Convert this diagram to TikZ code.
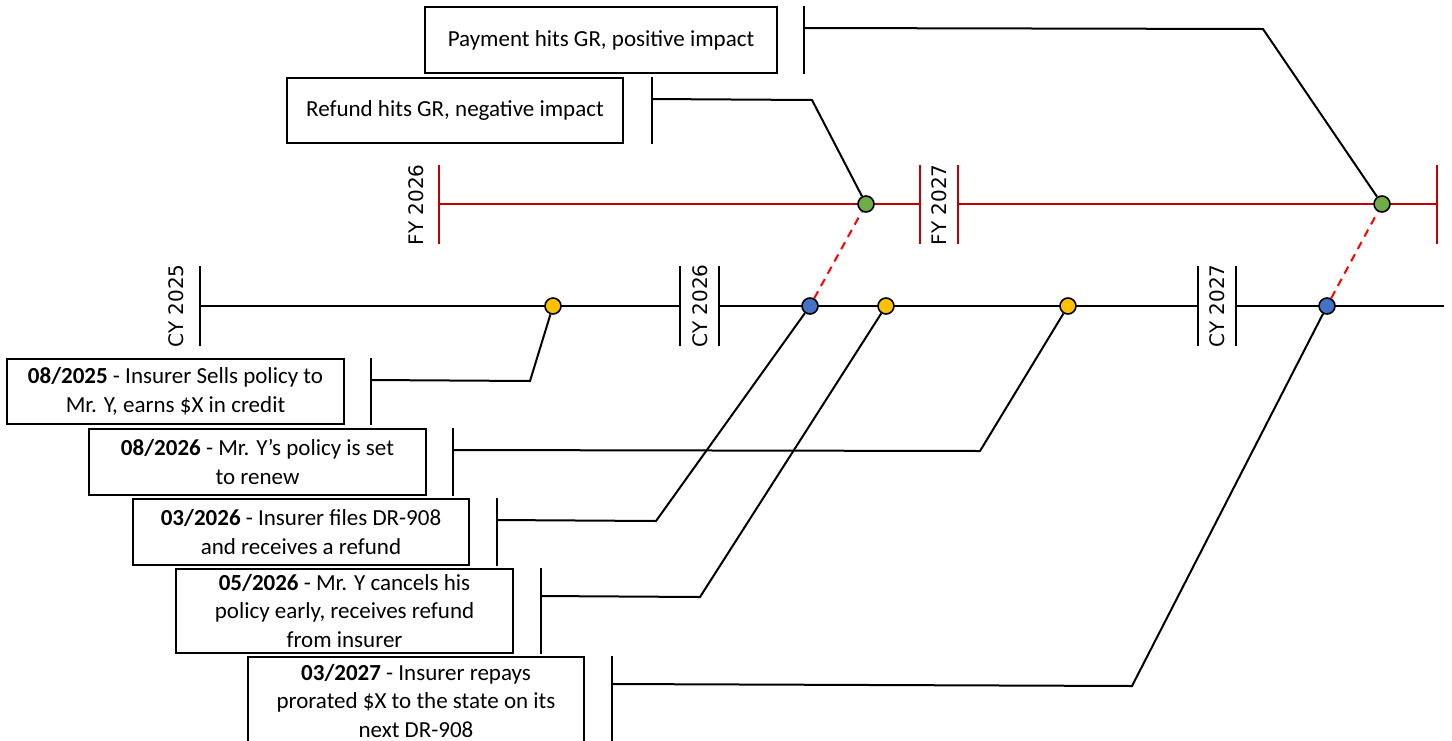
\documentclass[tikz,border=0pt]{standalone}
\usepackage{fontspec}
\setmainfont{Carlito}
\newfontfamily\axisfont{DejaVu Sans}

\definecolor{fyred}{HTML}{C00000}
\definecolor{dotyellow}{HTML}{FFC000}
\definecolor{dotblue}{HTML}{4472C4}
\definecolor{dotgreen}{HTML}{70AD47}

\begin{document}
\begin{tikzpicture}[x=0.5pt, y=-0.5pt,
  evbox/.style={draw, line width=1pt, align=center, inner sep=0pt,
    font=\fontsize{11.5}{14.2}\selectfont},
  axisline/.style={line width=1pt},
  yearlabel/.style={rotate=90, inner sep=0pt, font=\axisfont\fontsize{10}{12}\selectfont},
  evdot/.style={circle, draw, line width=0.8pt, inner sep=0pt, minimum size=8pt},
  leader/.style={line width=1pt},
  fylink/.style={line width=1pt, red, dash pattern=on 4pt off 3pt}]

\path[use as bounding box] (0,0) rectangle (1452,740);
\clip (0,0) rectangle (1452,740);

% ---------- (1) fiscal year line ----------
\draw[axisline, fyred] (439,204) -- (920,204);
\draw[axisline, fyred] (958,204) -- (1437,204);
\foreach \x in {439,920,958,1437}
  \draw[axisline, fyred] (\x,165) -- (\x,244);
\node[yearlabel] (fy26) at (416,205) {FY 2026};
\node[yearlabel] (fy27) at (939,205) {FY 2027};

% ---------- (2) calendar year line ----------
\draw[axisline] (200,306) -- (680,306);
\draw[axisline] (719,306) -- (1198,306);
\draw[axisline] (1236,306) -- (1444,306);
\foreach \x in {200,680,719,1198,1236}
  \draw[axisline] (\x,266) -- (\x,346);
\node[yearlabel] (cy25) at (176,306) {CY 2025};
\node[yearlabel] (cy26) at (700,306) {CY 2026};
\node[yearlabel] (cy27) at (1217,306) {CY 2027};

% ---------- (3) events on the lines ----------
\node[evdot, fill=dotyellow] (y1) at (553,306) {};
\node[evdot, fill=dotblue] (b1) at (810,306) {};
\node[evdot, fill=dotyellow] (y2) at (886,306) {};
\node[evdot, fill=dotyellow] (y3) at (1068,306) {};
\node[evdot, fill=dotblue] (b2) at (1327,306) {};
\node[evdot, fill=dotgreen] (g1) at (866,204) {};
\node[evdot, fill=dotgreen] (g2) at (1382,204) {};

\draw[fylink] (b1) -- (g1);
\draw[fylink] (b2) -- (g2);

% ---------- (4) GR impact boxes ----------
\node[evbox, minimum width=176pt, minimum height=33pt] (pay) at (601,40)
  {Payment hits GR, positive impact};
\draw[leader] ([xshift=13pt]pay.north east) -- ([xshift=13pt]pay.south east);
\coordinate (pay-kn) at (1263,29);
\draw[leader] ([xshift=13pt, yshift=-11pt]pay.north east) -- (pay-kn) -- (g2);

\node[evbox, minimum width=168pt, minimum height=32.5pt] (ref) at (455,110.5)
  {Refund hits GR, negative impact};
\draw[leader] ([xshift=14pt]ref.north east) -- ([xshift=14pt]ref.south east);
\coordinate (ref-kn) at (812,100);
\draw[leader] ([xshift=14pt, yshift=-11pt]ref.north east) -- (ref-kn) -- (g1);

% ---------- (5) event boxes ----------
\node[evbox, minimum width=168.5pt, minimum height=32.5pt] (ev1) at (175.5,391.5)
  {\textbf{08/2025} - Insurer Sells policy to\\Mr. Y, earns \$X in credit};
\draw[leader] ([xshift=13pt]ev1.north east) -- ([xshift=13pt]ev1.south east);
\coordinate (ev1-kn) at (530,381);
\draw[leader] ([xshift=13pt, yshift=-11pt]ev1.north east) -- (ev1-kn) -- (y1);

\node[evbox, minimum width=168.5pt, minimum height=33pt] (ev2) at (257.5,462)
  {\textbf{08/2026} - Mr. Y’s policy is set\\to renew};
\draw[leader] ([xshift=13pt]ev2.north east) -- ([xshift=13pt]ev2.south east);
\coordinate (ev2-kn) at (980,451);
\draw[leader] ([xshift=13pt, yshift=-11pt]ev2.north east) -- (ev2-kn) -- (y3);

\node[evbox, minimum width=168pt, minimum height=33pt] (ev3) at (301,532)
  {\textbf{03/2026} - Insurer files DR-908\\and receives a refund};
\draw[leader] ([xshift=13.5pt]ev3.north east) -- ([xshift=13.5pt]ev3.south east);
\coordinate (ev3-kn) at (656,521);
\draw[leader] ([xshift=13.5pt, yshift=-11pt]ev3.north east) -- (ev3-kn) -- (b1);

\node[evbox, minimum width=168.5pt, minimum height=42pt] (ev4) at (344.5,611)
  {\textbf{05/2026} - Mr. Y cancels his\\policy early, receives refund\\from insurer};
\draw[leader] ([xshift=13.5pt]ev4.north east) -- ([xshift=13.5pt]ev4.south east);
\coordinate (ev4-kn) at (700,597);
\draw[leader] ([xshift=13.5pt, yshift=-14pt]ev4.north east) -- (ev4-kn) -- (y2);

\node[evbox, minimum width=168pt, minimum height=44pt] (ev5) at (416,701)
  {\textbf{03/2027} - Insurer repays\\prorated \$X to the state on its\\next DR-908};
\draw[leader] ([xshift=13.5pt]ev5.north east) -- ([xshift=13.5pt]ev5.south east);
\coordinate (ev5-kn) at (1132,686);
\draw[leader] ([xshift=13.5pt, yshift=-14pt]ev5.north east) -- (ev5-kn) -- (b2);

\end{tikzpicture}
\end{document}
